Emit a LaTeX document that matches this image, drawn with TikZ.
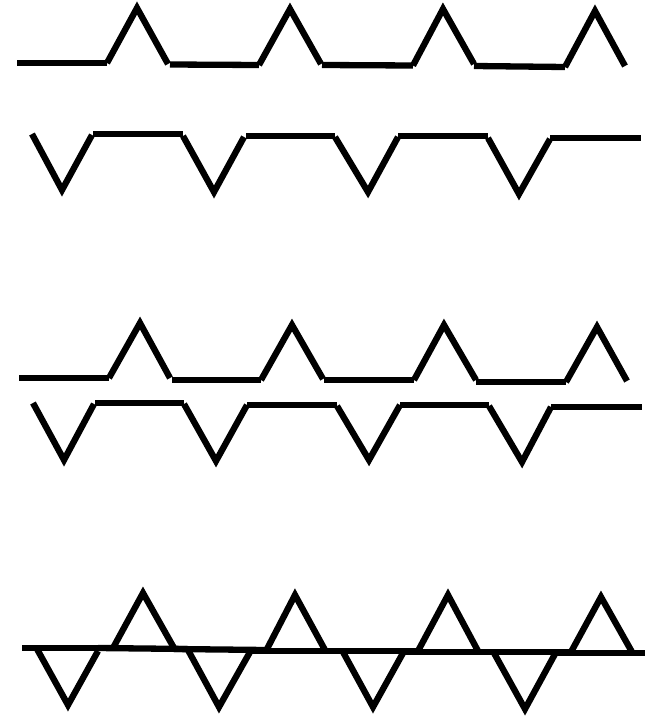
\documentclass[tikz,border=0pt]{standalone}
\begin{document}
\begin{tikzpicture}[x=1pt,y=-1pt,
  seg/.style={draw=black,line width=6.3pt,line cap=butt,line join=miter}]
\useasboundingbox (0,0) rectangle (654,717);
% Row 1
\draw[seg] (17,63)--(107,63);
\draw[seg] (107,63)--(137,8)--(168,64);
\draw[seg] (170,64.5)--(259,65);
\draw[seg] (259,65)--(290,9)--(321,64);
\draw[seg] (322,65)--(413,65.5);
\draw[seg] (413,65.5)--(443,9)--(474,64);
\draw[seg] (474,66)--(565,67);
\draw[seg] (565,67)--(595,11)--(625,66);
% Row 2
\draw[seg] (32,134)--(62,190)--(92,135);
\draw[seg] (93,134)--(183,134);
\draw[seg] (183,136)--(214,192)--(244,137);
\draw[seg] (246,136)--(335,136);
\draw[seg] (335,137)--(368,192)--(398,137);
\draw[seg] (398,136)--(488,136);
\draw[seg] (488,138)--(519,194)--(550,139);
\draw[seg] (550,138)--(641,138);
% Row 3
\draw[seg] (19,378)--(109,378);
\draw[seg] (109,378)--(140,323)--(170,378);
\draw[seg] (172,380)--(261,380);
\draw[seg] (261,380)--(292,325)--(323,379);
\draw[seg] (324,380)--(414,380);
\draw[seg] (414,380)--(444,325)--(476,380);
\draw[seg] (476,382)--(566,382);
\draw[seg] (566,382)--(597,327)--(627,381);
% Row 4
\draw[seg] (33,403)--(64,460)--(94,404);
\draw[seg] (95,403)--(184,403);
\draw[seg] (184,404)--(216,461)--(247,405);
\draw[seg] (247,405)--(337,405);
\draw[seg] (337,406)--(369,460)--(400,405);
\draw[seg] (400,405)--(489,405);
\draw[seg] (489,406)--(522,462)--(551,407);
\draw[seg] (551,407)--(642,407);
% Row 5 (overlay)
\draw[seg] (22,648)--(113,648);
\draw[seg] (98,648)--(188,649);
\draw[seg] (174,649)--(266,650);
\draw[seg] (250,651)--(343,651);
\draw[seg] (325,651)--(418,651);
\draw[seg] (403,652)--(494,652);
\draw[seg] (478,652)--(571,652);
\draw[seg] (555,653)--(645,653);
\draw[seg] (113,648)--(143,593)--(174,648);
\draw[seg] (267,649)--(295,595)--(325,650);
\draw[seg] (418,651)--(448,595)--(478,651);
\draw[seg] (571,652)--(601,597)--(632,652);
\draw[seg] (37,649)--(68,705)--(98,651);
\draw[seg] (188,650)--(219,707)--(250,652);
\draw[seg] (343,652)--(373,707)--(403,653);
\draw[seg] (494,653)--(525,709)--(555,654);
\end{tikzpicture}
\end{document}
